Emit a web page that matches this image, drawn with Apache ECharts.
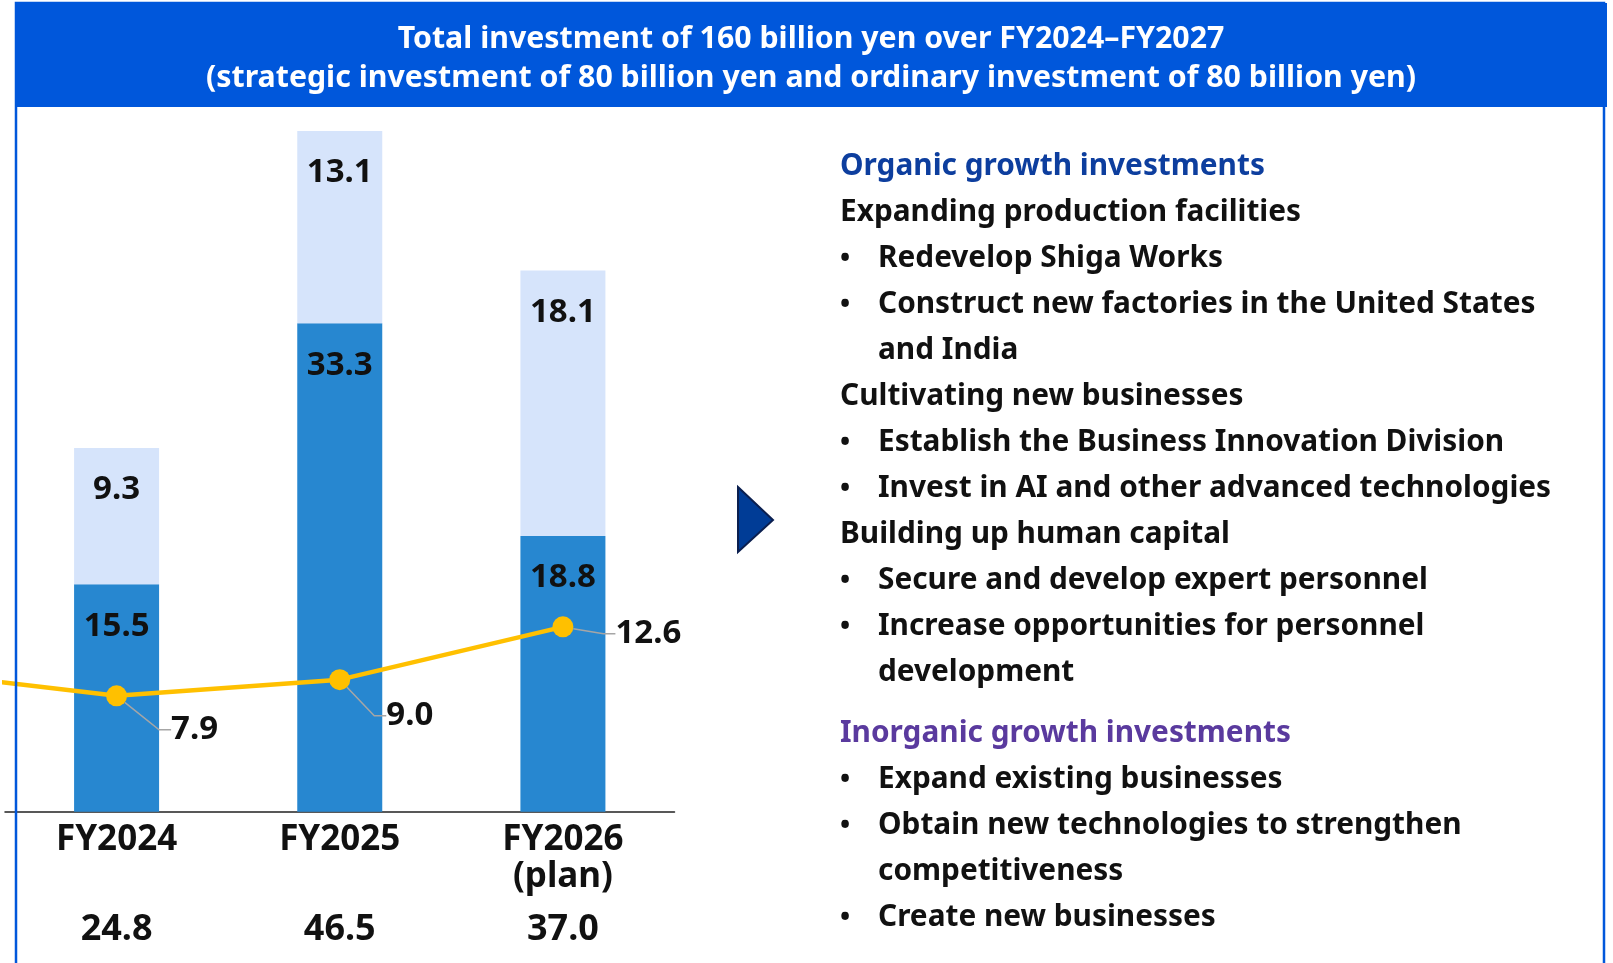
<!DOCTYPE html>
<html>
<head>
<meta charset="utf-8">
<title>Investment plan FY2024-FY2026</title>
<script src="https://cdn.jsdelivr.net/npm/echarts@6/dist/echarts.min.js"></script>
<style>
    html, body { margin: 0; padding: 0; background: #fff; }
    #chart { width: 1613px; height: 963px; }
</style>
</head>
<body>
<div id="chart"></div>
<script>
// ---- data ----
var categories = ['FY2024', 'FY2025', 'FY2026'];
var subLabels = ['', '', '(plan)'];
var lowerPart = [15.5, 33.3, 18.8];
var upperPart = [9.3, 13.1, 18.1];
var totals = ['24.8', '46.5', '37.0'];
// yellow line, first point is the previous year (cut off at the left edge, estimated)
var lineX = [-1, 0, 1, 2];
var lineValues = [9.7, 7.9, 9.0, 12.6];

var titleLines = [
    'Total investment of 160 billion yen over FY2024\u2013FY2027',
    '(strategic investment of 80 billion yen and ordinary investment of 80 billion yen)'
];
// kind: h1 = blue heading, h2 = purple heading, sub = plain line, b = bullet, c = bullet continuation
var rightRows = [
    ['h1', 'Organic growth investments'],
    ['sub', 'Expanding production facilities'],
    ['b', 'Redevelop Shiga Works'],
    ['b', 'Construct new factories in the United States'],
    ['c', 'and India'],
    ['sub', 'Cultivating new businesses'],
    ['b', 'Establish the Business Innovation Division'],
    ['b', 'Invest in AI and other advanced technologies'],
    ['sub', 'Building up human capital'],
    ['b', 'Secure and develop expert personnel'],
    ['b', 'Increase opportunities for personnel'],
    ['c', 'development'],
    ['h2', 'Inorganic growth investments'],
    ['b', 'Expand existing businesses'],
    ['b', 'Obtain new technologies to strengthen'],
    ['c', 'competitiveness'],
    ['b', 'Create new businesses']
];

// ---- layout ----
var FONT = '"Noto Sans", "DejaVu Sans", sans-serif';
var BLUE = '#0057DB';
var lineLabelShift = [[0, 0], [29, 34], [21, 36], [27, 7]];
var rowColors = { h1: '#0D3E9E', h2: '#5A3A9E', sub: '#111111', b: '#111111', c: '#111111' };

var graphics = [];
// frame + header band
graphics.push({
    type: 'rect', z: 100,
    shape: { x: 16, y: 3, width: 1588, height: 1000 },
    style: { fill: 'transparent', stroke: BLUE, lineWidth: 2.5 }
});
graphics.push({
    type: 'rect', z: 101,
    shape: { x: 15, y: 3, width: 1592, height: 104 },
    style: { fill: BLUE }
});
titleLines.forEach(function (t, i) {
    graphics.push({
        type: 'text', z: 102, x: 811, y: 39.5 + i * 39,
        style: {
            text: t, fill: '#fff', align: 'center', verticalAlign: 'middle',
            font: 'bold 30.3px ' + FONT
        }
    });
});
// arrow
graphics.push({
    type: 'polygon', z: 50,
    shape: { points: [[738, 487], [773, 520], [738, 552]] },
    style: { fill: '#003C96', stroke: '#0B1F4F', lineWidth: 2 }
});
// right-hand text block
rightRows.forEach(function (r, i) {
    var kind = r[0];
    var baseline = 175 + 46 * i + (i >= 12 ? 15 : 0);
    var y = baseline - 8;
    var x = (kind === 'b' || kind === 'c') ? 878 : 840;
    if (kind === 'b') {
        graphics.push({
            type: 'text', z: 50, x: 845, y: y,
            style: { text: '\u2022', fill: '#111', align: 'center', verticalAlign: 'middle', font: 'bold 27px ' + FONT }
        });
    }
    graphics.push({
        type: 'text', z: 50, x: x, y: y,
        style: {
            text: r[1], fill: rowColors[kind], align: 'left', verticalAlign: 'middle',
            font: 'bold 29.8px ' + FONT
        }
    });
});

var chart = echarts.init(document.getElementById('chart'));
var option = {
    animation: false,
    grid: { left: 5, top: 78.2, width: 669.5, height: 733.5, outerBoundsMode: 'none' },
    xAxis: [{
        type: 'category',
        data: categories,
        axisTick: { show: false },
        axisLine: { lineStyle: { color: '#222', width: 1.5 } },
        axisLabel: {
            margin: 9.5,
            interval: 0,
            color: '#111',
            fontFamily: FONT,
            fontSize: 35,
            fontWeight: 'bold',
            lineHeight: 37,
            formatter: function (v, i) {
                return v + '\n' + subLabels[i] + '\n{t|' + totals[i] + '}';
            },
            rich: {
                t: { fontSize: 36, fontWeight: 'bold', fontFamily: FONT, color: '#111', lineHeight: 70 }
            }
        }
    }, {
        type: 'value', min: -0.5, max: 2.5, show: false
    }],
    yAxis: { type: 'value', min: 0, max: 50, show: false },
    series: [{
        name: 'lower',
        type: 'bar',
        stack: 'inv',
        barWidth: 85,
        data: lowerPart,
        itemStyle: { color: '#2787D0' },
        label: {
            show: true, position: 'insideTop', distance: 25.5,
            color: '#111', fontFamily: FONT, fontSize: 33, fontWeight: 'bold',
            formatter: function (p) { return p.value.toFixed(1); }
        }
    }, {
        name: 'upper',
        type: 'bar',
        stack: 'inv',
        barWidth: 85,
        data: upperPart,
        itemStyle: { color: '#D6E4FB' },
        label: {
            show: true, position: 'insideTop', distance: 25.5,
            color: '#111', fontFamily: FONT, fontSize: 33, fontWeight: 'bold',
            formatter: function (p) { return p.value.toFixed(1); }
        }
    }, {
        name: 'line',
        type: 'line',
        xAxisIndex: 1,
        clip: false,
        z: 5,
        data: lineX.map(function (x, i) {
            return i === 0 ? { value: [x, lineValues[i]], label: { show: false }, labelLine: { show: false } }
                           : [x, lineValues[i]];
        }),
        symbol: 'circle',
        symbolSize: 21,
        itemStyle: { color: '#FFC000' },
        lineStyle: { color: '#FFC000', width: 4.5 },
        label: {
            show: true, position: 'right', distance: 5,
            padding: [0, 0, 0, 10],
            color: '#111', fontFamily: FONT, fontSize: 33, fontWeight: 'bold',
            formatter: function (p) { return p.value[1].toFixed(1); }
        },
        labelLine: { show: true, length2: 12, lineStyle: { color: '#A6A6A6', width: 1.5 } },
        labelLayout: function (params) {
            var s = lineLabelShift[params.dataIndex];
            return { dx: s[0], dy: s[1] };
        }
    }],
    graphic: { elements: graphics }
};
chart.setOption(option);
</script>
</body>
</html>
